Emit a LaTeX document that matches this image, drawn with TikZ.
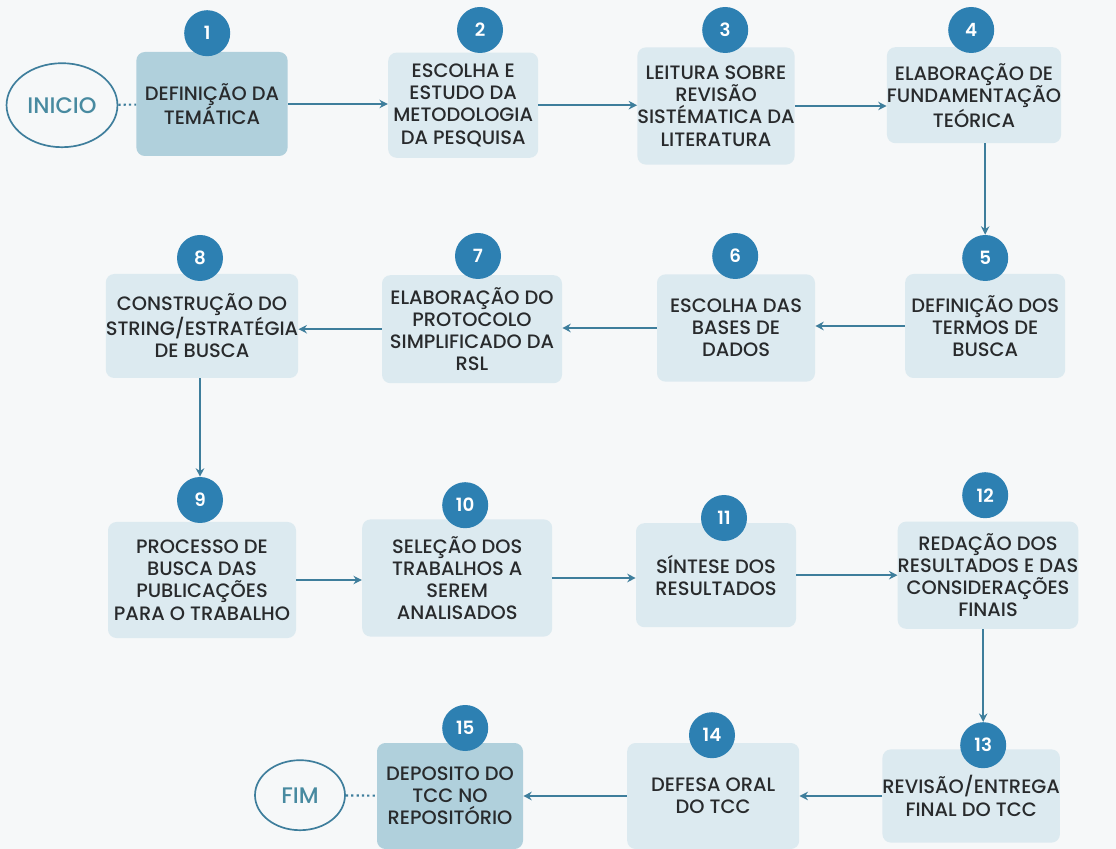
\documentclass[tikz,border=0pt]{standalone}
\usepackage{fontspec}
\setmainfont{Poppins}[UprightFont={* Medium}, BoldFont={* SemiBold}]
\usetikzlibrary{arrows.meta,shapes.geometric}

\definecolor{fundo}{RGB}{246,248,249}
\definecolor{caixa}{RGB}{220,234,240}
\definecolor{caixaesc}{RGB}{176,208,220}
\definecolor{selo}{RGB}{45,128,178}
\definecolor{seta}{RGB}{62,126,156}
\definecolor{texto}{RGB}{40,42,44}
\definecolor{termo}{RGB}{72,138,160}

\tikzset{
  box/.style={rectangle, rounded corners=6pt, fill=caixa, text=texto, align=center,
    font=\fontsize{13.8}{15.8}\selectfont, inner sep=0pt},
  boxesc/.style={box, fill=caixaesc},
  badge/.style={circle, fill=selo, text=white, minimum size=1.15cm, inner sep=0pt,
    font=\fontsize{13}{14}\selectfont\bfseries},
  term/.style={ellipse, draw=seta, line width=1.2pt, fill=fundo, text=termo,
    font=\fontsize{16}{18}\selectfont},
  arr/.style={draw=seta, line width=1.3pt, -{Stealth[length=6pt,width=6pt]}},
  dots/.style={draw=seta, line width=1.5pt, dash pattern=on 1.6pt off 2.2pt}
}

\begin{document}
\begin{tikzpicture}
        \useasboundingbox[fill=fundo] (0,0) rectangle (27.9,-21.225);

        % linha 1
        \node[term, minimum width=2.6cm, minimum height=2.1cm] (inicio) at (1.55,-2.63) {INICIO};
        \node[boxesc, minimum width=3.78cm, minimum height=2.6cm] (b1) at (5.3,-2.6) {DEFINIÇÃO DA\\TEMÁTICA};
        \node[box, minimum width=3.75cm, minimum height=2.63cm] (b2) at (11.58,-2.63) {ESCOLHA E\\ESTUDO DA\\METODOLOGIA\\DA PESQUISA};
        \node[box, minimum width=3.8cm, minimum height=2.93cm] (b3) at (17.9,-2.65) {LEITURA SOBRE\\REVISÃO\\SISTÉMATICA DA\\LITERATURA};
        \node[box, minimum width=4.05cm, minimum height=2.4cm] (b4) at (24.35,-2.38) {ELABORAÇÃO DE\\FUNDAMENTAÇÃO\\TEÓRICA};

        % linha 2
        \node[box, minimum width=4cm, minimum height=2.6cm] (b5) at (24.63,-8.15) {DEFINIÇÃO DOS\\TERMOS DE\\BUSCA};
        \node[box, minimum width=3.95cm, minimum height=2.68cm] (b6) at (18.4,-8.2) {ESCOLHA DAS\\BASES DE\\DADOS};
        \node[box, minimum width=4.5cm, minimum height=2.7cm] (b7) at (11.8,-8.23) {ELABORAÇÃO DO\\PROTOCOLO\\SIMPLIFICADO DA\\RSL};
        \node[box, minimum width=4.7cm, minimum height=2.6cm] (b8) at (5.05,-8.15) {CONSTRUÇÃO DO\\STRING/ESTRATÉGIA\\DE BUSCA};

        % linha 3
        \node[box, minimum width=4.7cm, minimum height=2.9cm] (b9) at (5.05,-14.5) {PROCESSO DE\\BUSCA DAS\\PUBLICAÇÕES\\PARA O TRABALHO};
        \node[box, minimum width=4.75cm, minimum height=2.93cm] (b10) at (11.43,-14.45) {SELEÇÃO DOS\\TRABALHOS A\\SEREM\\ANALISADOS};
        \node[box, minimum width=4cm, minimum height=2.6cm] (b11) at (17.9,-14.38) {SÍNTESE DOS\\RESULTADOS};
        \node[box, minimum width=4.3cm, minimum height=2.68cm] (b12) at (24.7,-14.38) {REDAÇÃO DOS\\RESULTADOS E DAS\\CONSIDERAÇÕES\\FINAIS};

        % linha 4
        \node[box, minimum width=3.95cm, minimum height=2.33cm] (b13) at (24.28,-19.9) {REVISÃO/ENTREGA\\FINAL DO TCC};
        \node[box, minimum width=4.3cm, minimum height=2.65cm] (b14) at (17.83,-19.9) {DEFESA ORAL\\DO TCC};
        \node[boxesc, minimum width=3.65cm, minimum height=2.65cm] (b15) at (11.25,-19.9) {DEPOSITO DO\\TCC NO\\REPOSITÓRIO};
        \node[term, minimum width=2.25cm, minimum height=1.75cm] (fim) at (7.5,-19.88) {FIM};

        % numeros
        \foreach \i/\x/\y in {1/5.18/-0.83, 2/12/-0.75, 3/18.13/-0.75, 4/24.28/-0.75,
            5/24.63/-6.45, 6/18.38/-6.4, 7/11.95/-6.4, 8/5/-6.45,
            9/5/-12.5, 10/11.63/-12.63, 11/18.1/-12.95, 12/24.63/-12.38,
            13/24.58/-18.63, 14/17.8/-18.38, 15/11.63/-18.2} {
            \node[badge] (n\i) at (\x,\y) {\i};
        }

        % setas
        \draw[dots] (inicio) -- (b1);
        \draw[dots] (fim) -- (b15);
        \draw[arr] (b1.east) -- (b1.east -| b2.west);
        \draw[arr] (b2.east) -- (b2.east -| b3.west);
        \draw[arr] (b3.east) -- (b3.east -| b4.west);
        \draw[arr] (b4.south -| n5) -- (n5.north);
        \draw[arr] (b5.west) -- (b5.west -| b6.east);
        \draw[arr] (b6.west) -- (b6.west -| b7.east);
        \draw[arr] (b7.west) -- (b7.west -| b8.east);
        \draw[arr] (b8.south -| n9) -- (n9.north);
        \draw[arr] (b9.east) -- (b9.east -| b10.west);
        \draw[arr] (b10.east) -- (b10.east -| b11.west);
        \draw[arr] (b11.east) -- (b11.east -| b12.west);
        \draw[arr] (b12.south -| n13) -- (n13.north);
        \draw[arr] (b13.west) -- (b13.west -| b14.east);
        \draw[arr] (b14.west) -- (b14.west -| b15.east);
\end{tikzpicture}
\end{document}
